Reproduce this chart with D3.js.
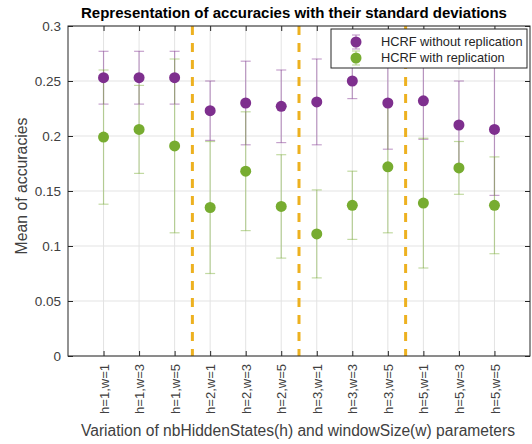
<!DOCTYPE html>
<html>
<head>
<meta charset="utf-8">
<script src="https://cdn.jsdelivr.net/npm/d3@7"></script>
<style>
  body { margin: 0; background: #fff; }
  svg { display: block; font-family: "Liberation Sans", Arial, sans-serif; }
</style>
</head>
<body>
<div id="chart"></div>
<script>
// values
const categories = ["h=1,w=1", "h=1,w=3", "h=1,w=5", "h=2,w=1", "h=2,w=3", "h=2,w=5",
                    "h=3,w=1", "h=3,w=3", "h=3,w=5", "h=5,w=1", "h=5,w=3", "h=5,w=5"];
const meanNoRep = [0.253, 0.253, 0.253, 0.223, 0.230, 0.227, 0.231, 0.250, 0.230, 0.232, 0.210, 0.206];
const stdNoRep  = [0.024, 0.024, 0.024, 0.027, 0.038, 0.033, 0.039, 0.016, 0.042, 0.035, 0.040, 0.060];
const meanRep   = [0.199, 0.206, 0.191, 0.135, 0.168, 0.136, 0.111, 0.137, 0.172, 0.139, 0.171, 0.137];
const stdRep    = [0.061, 0.040, 0.079, 0.060, 0.054, 0.047, 0.040, 0.031, 0.060, 0.059, 0.024, 0.044];
const groupBreaks = [3.5, 6.5, 9.5];
const yTicks = [0, 0.05, 0.1, 0.15, 0.2, 0.25, 0.3];
const seriesNames = ["HCRF without replication", "HCRF with replication"];

const W = 532, H = 444;
const margin = {top: 26, right: 2, bottom: 88, left: 68};
const width = W - margin.left - margin.right;
const height = H - margin.top - margin.bottom;

const series = [
  {name: seriesNames[0], mean: meanNoRep, std: stdNoRep, color: "#7E2F8E"},
  {name: seriesNames[1], mean: meanRep, std: stdRep, color: "#77AC30"}
];

const svg = d3.select("#chart").append("svg")
  .attr("width", W).attr("height", H);

const g = svg.append("g")
  .attr("transform", "translate(" + margin.left + "," + margin.top + ")");

const x = d3.scaleLinear().domain([0, categories.length + 1]).range([0, width]);
const y = d3.scaleLinear().domain([0, 0.3]).range([height, 0]);
const idx = d3.range(1, categories.length + 1);

// grid
g.append("g").selectAll("line").data(idx).enter().append("line")
  .attr("x1", d => x(d)).attr("x2", d => x(d))
  .attr("y1", 0).attr("y2", height)
  .attr("stroke", "#e3e3e3");
g.append("g").selectAll("line").data(yTicks).enter().append("line")
  .attr("x1", 0).attr("x2", width)
  .attr("y1", d => y(d)).attr("y2", d => y(d))
  .attr("stroke", "#e3e3e3");

// error bars
const cap = 5;
series.forEach(s => {
  const eb = g.append("g")
    .attr("stroke", s.color).attr("stroke-opacity", 0.45).attr("stroke-width", 1.2);
  s.mean.forEach((m, i) => {
    const xi = x(i + 1), lo = y(m - s.std[i]), hi = y(m + s.std[i]);
    eb.append("line").attr("x1", xi).attr("x2", xi).attr("y1", lo).attr("y2", hi);
    eb.append("line").attr("x1", xi - cap).attr("x2", xi + cap).attr("y1", lo).attr("y2", lo);
    eb.append("line").attr("x1", xi - cap).attr("x2", xi + cap).attr("y1", hi).attr("y2", hi);
  });
});

// markers
series.forEach(s => {
  g.append("g").selectAll("circle").data(s.mean).enter().append("circle")
    .attr("cx", (d, i) => x(i + 1)).attr("cy", d => y(d))
    .attr("r", 5.5)
    .attr("fill", s.color);
});

// group separators
g.append("g").selectAll("line").data(groupBreaks).enter().append("line")
  .attr("x1", d => x(d)).attr("x2", d => x(d))
  .attr("y1", 0).attr("y2", height)
  .attr("stroke", "#EDB120").attr("stroke-width", 3)
  .attr("stroke-dasharray", "9,8");

// axes box + ticks
const axisColor = "#262626";
const yAxis = g.append("g")
  .call(d3.axisLeft(y).tickValues(yTicks).tickSize(-5).tickPadding(7).tickFormat(d3.format("")));
const yAxisR = g.append("g").attr("transform", "translate(" + width + ",0)")
  .call(d3.axisRight(y).tickValues(yTicks).tickSize(-5).tickFormat(""));
const xAxis = g.append("g").attr("transform", "translate(0," + height + ")")
  .call(d3.axisBottom(x).tickValues(idx).tickSize(-5).tickPadding(8)
    .tickFormat(d => categories[d - 1]));
const xAxisT = g.append("g")
  .call(d3.axisTop(x).tickValues(idx).tickSize(-5).tickFormat(""));

[yAxis, yAxisR, xAxis, xAxisT].forEach(a => {
  a.select(".domain").remove();
  a.selectAll(".tick line").attr("stroke", axisColor);
});
g.append("rect").attr("width", width).attr("height", height)
  .attr("fill", "none").attr("stroke", axisColor);

yAxis.selectAll("text").attr("font-size", 13.5).attr("fill", "#404040");
xAxis.selectAll("text")
  .attr("font-size", 13).attr("fill", "#404040")
  .attr("text-anchor", "end")
  .attr("transform", "rotate(-90)")
  .attr("dy", "0.35em").attr("y", 0).attr("x", -8);

// titles
svg.append("text")
  .attr("x", 294).attr("y", 18)
  .attr("text-anchor", "middle")
  .attr("font-size", 15).attr("font-weight", "bold").attr("fill", "#000")
  .text("Representation of accuracies with their standard deviations");

svg.append("text")
  .attr("x", margin.left + width / 2 - 1).attr("y", 436)
  .attr("text-anchor", "middle")
  .attr("font-size", 15.6).attr("fill", "#404040")
  .text("Variation of nbHiddenStates(h) and windowSize(w) parameters");

svg.append("text")
  .attr("transform", "translate(27," + (margin.top + height / 2 - 5) + ") rotate(-90)")
  .attr("text-anchor", "middle")
  .attr("font-size", 15.8).attr("fill", "#404040")
  .text("Mean of accuracies");

// legend
const leg = svg.append("g").attr("transform", "translate(331,29)");
leg.append("rect").attr("width", 196).attr("height", 39)
  .attr("fill", "#fff").attr("stroke", axisColor);
series.forEach((s, i) => {
  const row = leg.append("g").attr("transform", "translate(25," + (13 + i * 16) + ")");
  row.append("line").attr("x1", 0).attr("x2", 0).attr("y1", -7).attr("y2", 7)
    .attr("stroke", s.color).attr("stroke-opacity", 0.45).attr("stroke-width", 1.2);
  [-7, 7].forEach(cy => row.append("line").attr("x1", -4).attr("x2", 4).attr("y1", cy).attr("y2", cy)
    .attr("stroke", s.color).attr("stroke-opacity", 0.45).attr("stroke-width", 1.2));
  row.append("circle").attr("r", 5.5).attr("fill", s.color);
  row.append("text").attr("x", 25).attr("dy", "0.35em")
    .attr("font-size", 12.8).attr("fill", "#262626")
    .text(s.name);
});
</script>
</body>
</html>
